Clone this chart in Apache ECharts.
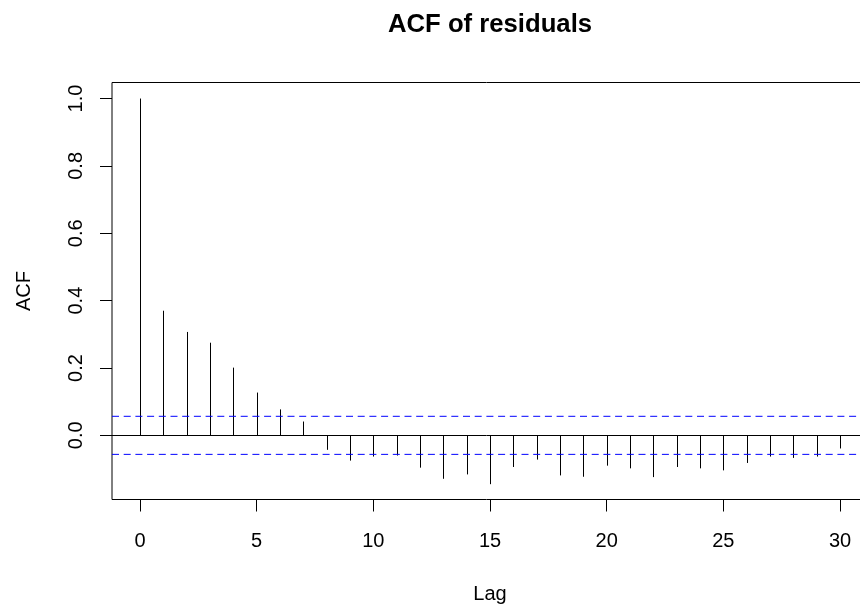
<!DOCTYPE html>
<html><head><meta charset="utf-8">
<script src="https://cdn.jsdelivr.net/npm/echarts@6/dist/echarts.min.js"></script>
<style>html,body{margin:0;padding:0;background:#fff}#c{width:860px;height:607px}</style>
</head><body><div id="c"></div>
<script>
const lags = [0,1,2,3,4,5,6,7,8,9,10,11,12,13,14,15,16,17,18,19,20,21,22,23,24,25,26,27,28,29,30];
const acfValues = [1.0,0.370,0.307,0.275,0.201,0.127,0.077,0.041,-0.043,-0.075,-0.063,-0.060,-0.096,-0.129,-0.116,
  -0.145,-0.094,-0.072,-0.119,-0.123,-0.090,-0.098,-0.124,-0.094,-0.098,-0.104,-0.082,-0.063,-0.067,-0.063,-0.039];
const ciBound = 0.0565;
const xTicks = [0,5,10,15,20,25,30];
const yTicks = [0,0.2,0.4,0.6,0.8,1.0];
const xRange = [-1.2, 31.2];
const yRange = [-0.1905, 1.0476];

const FONT = 'Liberation Sans, Arial, sans-serif';
const chart = echarts.init(document.getElementById('c'), null, {renderer:'canvas'});
const ciLine = (v) => ({
  type:'line', data:[[xRange[0], v],[xRange[1], v]], showSymbol:false, symbol:'none', silent:true, z:5,
  lineStyle:{color:'#0000ff', type:[7,4.7], width:1, opacity:1}, itemStyle:{color:'#0000ff'}
});
chart.setOption({
  animation:false,
  backgroundColor:'#fff',
  title:{text:'ACF of residuals', left:485, textAlign:'center', top:7,
    textStyle:{fontFamily:FONT, fontSize:25.7, fontWeight:'bold', color:'#000'}},
  grid:{left:112, top:82.5, bottom:107.5, right:-8, outerBoundsMode:'none', containLabel:false,
    show:true, borderColor:'#000', borderWidth:1, backgroundColor:'transparent'},
  xAxis:{type:'value', min:xRange[0], max:xRange[1], position:'bottom',
    name:'Lag', nameLocation:'middle', nameGap:85,
    nameTextStyle:{fontFamily:FONT, fontSize:20, color:'#000'},
    axisLine:{show:false, onZero:false}, splitLine:{show:false},
    axisTick:{show:true, length:12, customValues:xTicks, lineStyle:{color:'#000'}},
    axisLabel:{customValues:xTicks, margin:32, fontFamily:FONT, fontSize:20, color:'#000'}},
  yAxis:{type:'value', min:yRange[0], max:yRange[1], position:'left',
    name:'ACF', nameLocation:'middle', nameGap:78, nameRotate:90,
    nameTextStyle:{fontFamily:FONT, fontSize:20, color:'#000'},
    axisLine:{show:false, onZero:false}, splitLine:{show:false},
    axisTick:{show:true, length:12, customValues:yTicks, lineStyle:{color:'#000'}},
    axisLabel:{customValues:yTicks, rotate:90, margin:26, fontFamily:FONT, fontSize:20, color:'#000',
      formatter:v=>v.toFixed(1)}},
  series:[{
    type:'custom',
    data:lags.map((l,i)=>[l, acfValues[i]]),
    renderItem:(params, api)=>{
      const x = api.value(0), v = api.value(1);
      const p0 = api.coord([x,0]), p1 = api.coord([x,v]);
      const px = Math.round(p0[0]) + 0.5;
      return {type:'line', shape:{x1:px, y1:p0[1], x2:px, y2:p1[1]}, style:{stroke:'#000', lineWidth:1}};
    },
    markLine:{silent:true, symbol:'none', label:{show:false},
      lineStyle:{color:'#000', type:'solid', width:1},
      data:[{yAxis:0}]}
  }, ciLine(ciBound), ciLine(-ciBound)]
});
</script>
</body></html>
